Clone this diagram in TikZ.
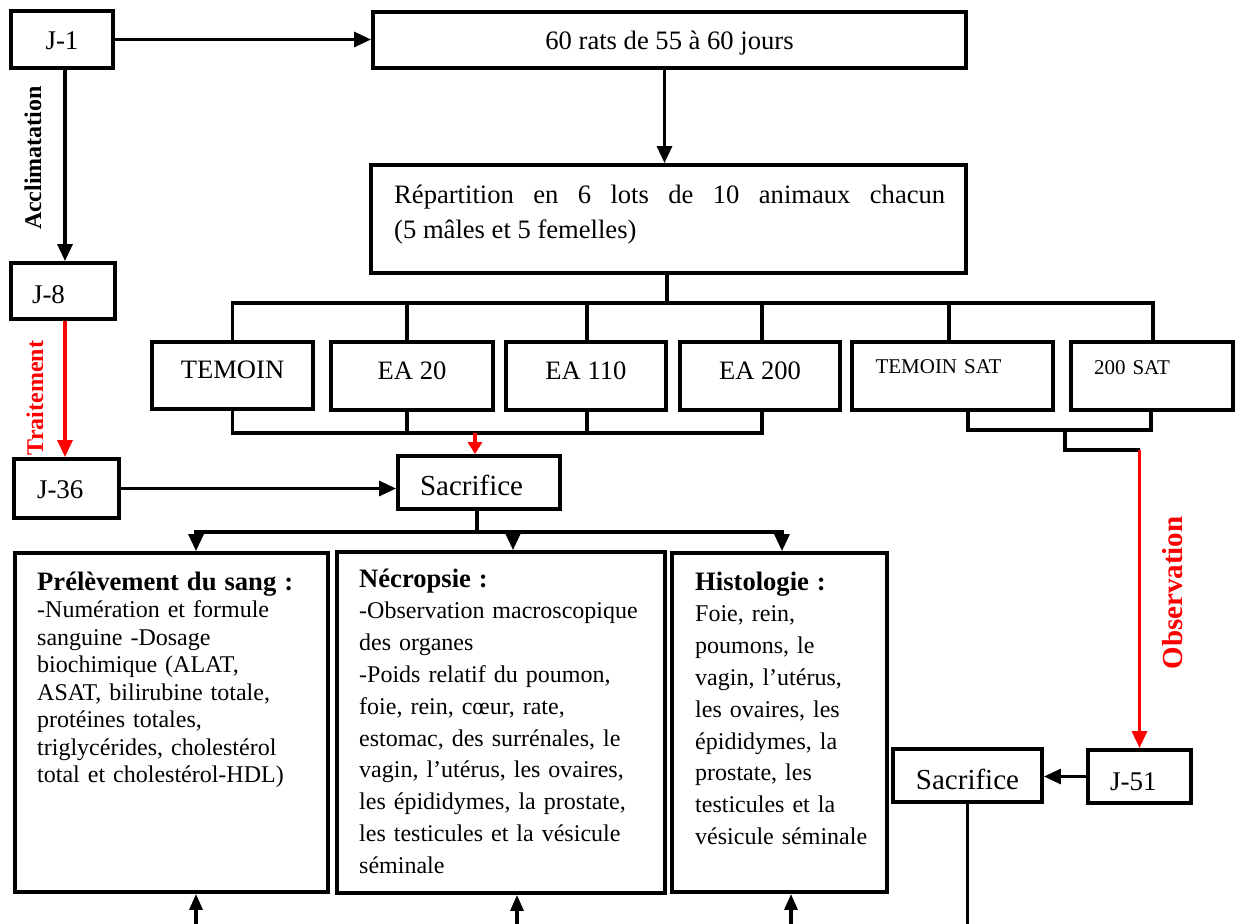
\documentclass[tikz,border=0pt]{standalone}
\usepackage{fontspec}
\setmainfont{Liberation Serif}
\usetikzlibrary{arrows.meta}
\begin{document}
\begin{tikzpicture}[x=1pt,y=-1pt,
  bx/.style 2 args={draw, line width=3.9pt, rectangle, inner sep=0pt,
                    minimum width=#1, minimum height=#2},
  tb/.style={text height=30pt, text depth=#1},
  conn/.style={line width=3.2pt},
  arr/.style={conn, -{Triangle[length=17pt,width=15pt]}},
  uparr/.style={conn, -{Triangle[length=16pt,width=13pt]}},
  redarr/.style={conn, red, -{Triangle[length=17pt,width=15pt]}},
  smallred/.style={conn, red, -{Triangle[length=12pt,width=14pt]}},
  lbl/.style={font=\fontsize{26.6pt}{32pt}\selectfont},
  jlbl/.style={font=\fontsize{27pt}{32pt}\selectfont},
  saclbl/.style={font=\fontsize{29pt}{34pt}\selectfont},
  satlbl/.style={font=\fontsize{21pt}{25pt}\selectfont},
  body/.style={anchor=base west, inner sep=0pt, align=left},
  vlabel/.style={rotate=90, inner sep=0pt, font=\bfseries\fontsize{#1}{#1}\selectfont},
]
\useasboundingbox (0,0) rectangle (1235,924);

% --- timeline and set-up boxes
\node[bx={102pt}{57pt}, jlbl, tb=11pt] (J1) at (62,39.5) {J-1};
\node[bx={593pt}{56pt}, lbl, tb=12pt] (rats) at (669.5,40) {60 rats de 55 à 60 jours};
\node[bx={595pt}{108pt}] (rep) at (668.5,219) {};
\node[body, align=justify, text width=551pt, font=\fontsize{26.6pt}{35pt}\selectfont] (reptxt) at (394,203)
  {Répartition en 6 lots de 10 animaux chacun\linebreak (5 mâles et 5 femelles)};
\node[bx={104pt}{56pt}, jlbl, tb=6pt, text width=62pt] (J8) at (63,291) {J-8};
\node[bx={105pt}{59pt}, jlbl, tb=11pt, text width=59pt] (J36) at (66.5,488.5) {J-36};

% --- groups
\node[bx={161pt}{67pt}, lbl, tb=24pt] (temoin) at (232.5,375.5) {TEMOIN};
\node[bx={162pt}{68pt}, lbl, tb=24pt] (ea20) at (412,376) {EA 20};
\node[bx={160pt}{68pt}, lbl, tb=24pt] (ea110) at (586,376) {EA 110};
\node[bx={160pt}{68pt}, lbl, tb=24pt] (ea200) at (760,376) {EA 200};
\node[bx={201pt}{68pt}, satlbl, tb=36pt, text width=154pt, align=left] (tsat) at (952.5,376) {TEMOIN SAT};
\node[bx={162pt}{68pt}, satlbl, tb=34pt, text width=116pt, align=left] (sat200) at (1152,376) {200 SAT};

% --- sacrifices
\node[bx={162pt}{53pt}, saclbl, tb=5pt, text width=118pt, align=left] (sac1) at (479,482.5) {Sacrifice};
\node[bx={149pt}{53pt}, saclbl, tb=3pt] (sac2) at (967.5,775.5) {Sacrifice};
\node[bx={103pt}{53pt}, jlbl, tb=3pt, text width=59pt] (J51) at (1139.5,776.5) {J-51};

% --- analyses
\node[bx={313pt}{339pt}] (sang) at (171.5,722.5) {};
\node[body, text width=285pt, font=\fontsize{24pt}{27.5pt}\selectfont] (sangtxt) at (37,590)
  {{\bfseries\fontsize{26.6pt}{28pt}\selectfont Prélèvement du sang :}\\
   -Numération et formule\\
   sanguine -Dosage\\
   biochimique (ALAT,\\
   ASAT, bilirubine totale,\\
   protéines totales,\\
   triglycérides, cholestérol\\
   total et cholestérol-HDL)};
\node[bx={328pt}{341pt}] (necro) at (501,722.5) {};
\node[body, text width=300pt, font=\fontsize{24pt}{31.8pt}\selectfont] (necrotxt) at (359,587)
  {{\bfseries\fontsize{26.6pt}{31.8pt}\selectfont Nécropsie :}\\
   -Observation macroscopique\\
   des organes\\
   -Poids relatif du poumon,\\
   foie, rein, cœur, rate,\\
   estomac, des surrénales, le\\
   vagin, l’utérus, les ovaires,\\
   les épididymes, la prostate,\\
   les testicules et la vésicule\\
   séminale};
\node[bx={215pt}{339pt}] (histo) at (779.5,722.5) {};
\node[body, text width=185pt, font=\fontsize{24pt}{31.8pt}\selectfont] (histotxt) at (695,590)
  {{\bfseries\fontsize{26.6pt}{31.8pt}\selectfont Histologie :}\\
   Foie, rein,\\
   poumons, le\\
   vagin, l’utérus,\\
   les ovaires, les\\
   épididymes, la\\
   prostate, les\\
   testicules et la\\
   vésicule séminale};

% --- phase labels
\node[vlabel=24pt] (accl) at (33,158) {Acclimatation};
\node[vlabel=24pt, red] (trait) at (35,398) {Traitement};
\node[vlabel=29pt, red] (obs) at (1173,593) {Observation};

% --- connectors
\draw[arr] (J1.east) -- (J1.east -| rats.west);
\draw[arr] ([xshift=-5pt]rats.south) -- ([xshift=-5pt]rats.south |- rep.north);
\draw[arr] ([xshift=3pt]J1.south) -- ([xshift=3pt]J1.south |- J8.north);
\draw[redarr] ([xshift=2pt]J8.south) -- ([xshift=2pt]J8.south |- J36.north);
\draw[arr] (J36.east) -- (J36.east -| sac1.west);

\coordinate (busT) at (667,303);
\draw[conn] ([xshift=-1.5pt]rep.south) -- (busT);
\foreach \n/\dx in {temoin/0, ea20/-5, ea110/1, ea200/2, tsat/-3.5, sat200/1}
  \draw[conn] ([xshift=\dx pt]\n.north) |- (busT);

\coordinate (busB) at (475,433);
\foreach \n/\dx in {temoin/0, ea20/-5, ea110/1, ea200/2}
  \draw[conn] ([xshift=\dx pt]\n.south) |- (busB);
\draw[smallred] (busB) -- (busB |- sac1.north);

\coordinate (busS) at (1065,430);
\coordinate (obsTop) at (1139.5,450);
\draw[conn] ([xshift=15.5pt]tsat.south) |- (busS);
\draw[conn] ([xshift=-1pt]sat200.south) |- (busS);
\draw[conn] (busS) |- (obsTop);
\draw[redarr] (obsTop) -- (J51.north);

\coordinate (busC) at (477,532);
\draw[conn] ([xshift=-2pt]sac1.south) -- (busC);
\draw[arr] (busC) -| ([xshift=24.5pt]sang.north);
\draw[arr] (busC) -| ([xshift=12pt]necro.north);
\draw[arr] (busC) -| ([xshift=2.5pt]histo.north);

\coordinate (inA) at (196,924);
\coordinate (inB) at (517,924);
\coordinate (inC) at (791,924);
\draw[uparr] (inA) -- (inA |- sang.south);
\draw[uparr] (inB) -- (inB |- necro.south);
\draw[uparr] (inC) -- (inC |- histo.south);

\coordinate (outS) at (967.5,924);
\draw[conn] (sac2.south) -- (outS);
\draw[arr] (J51.west) -- (J51.west -| sac2.east);
\end{tikzpicture}
\end{document}
